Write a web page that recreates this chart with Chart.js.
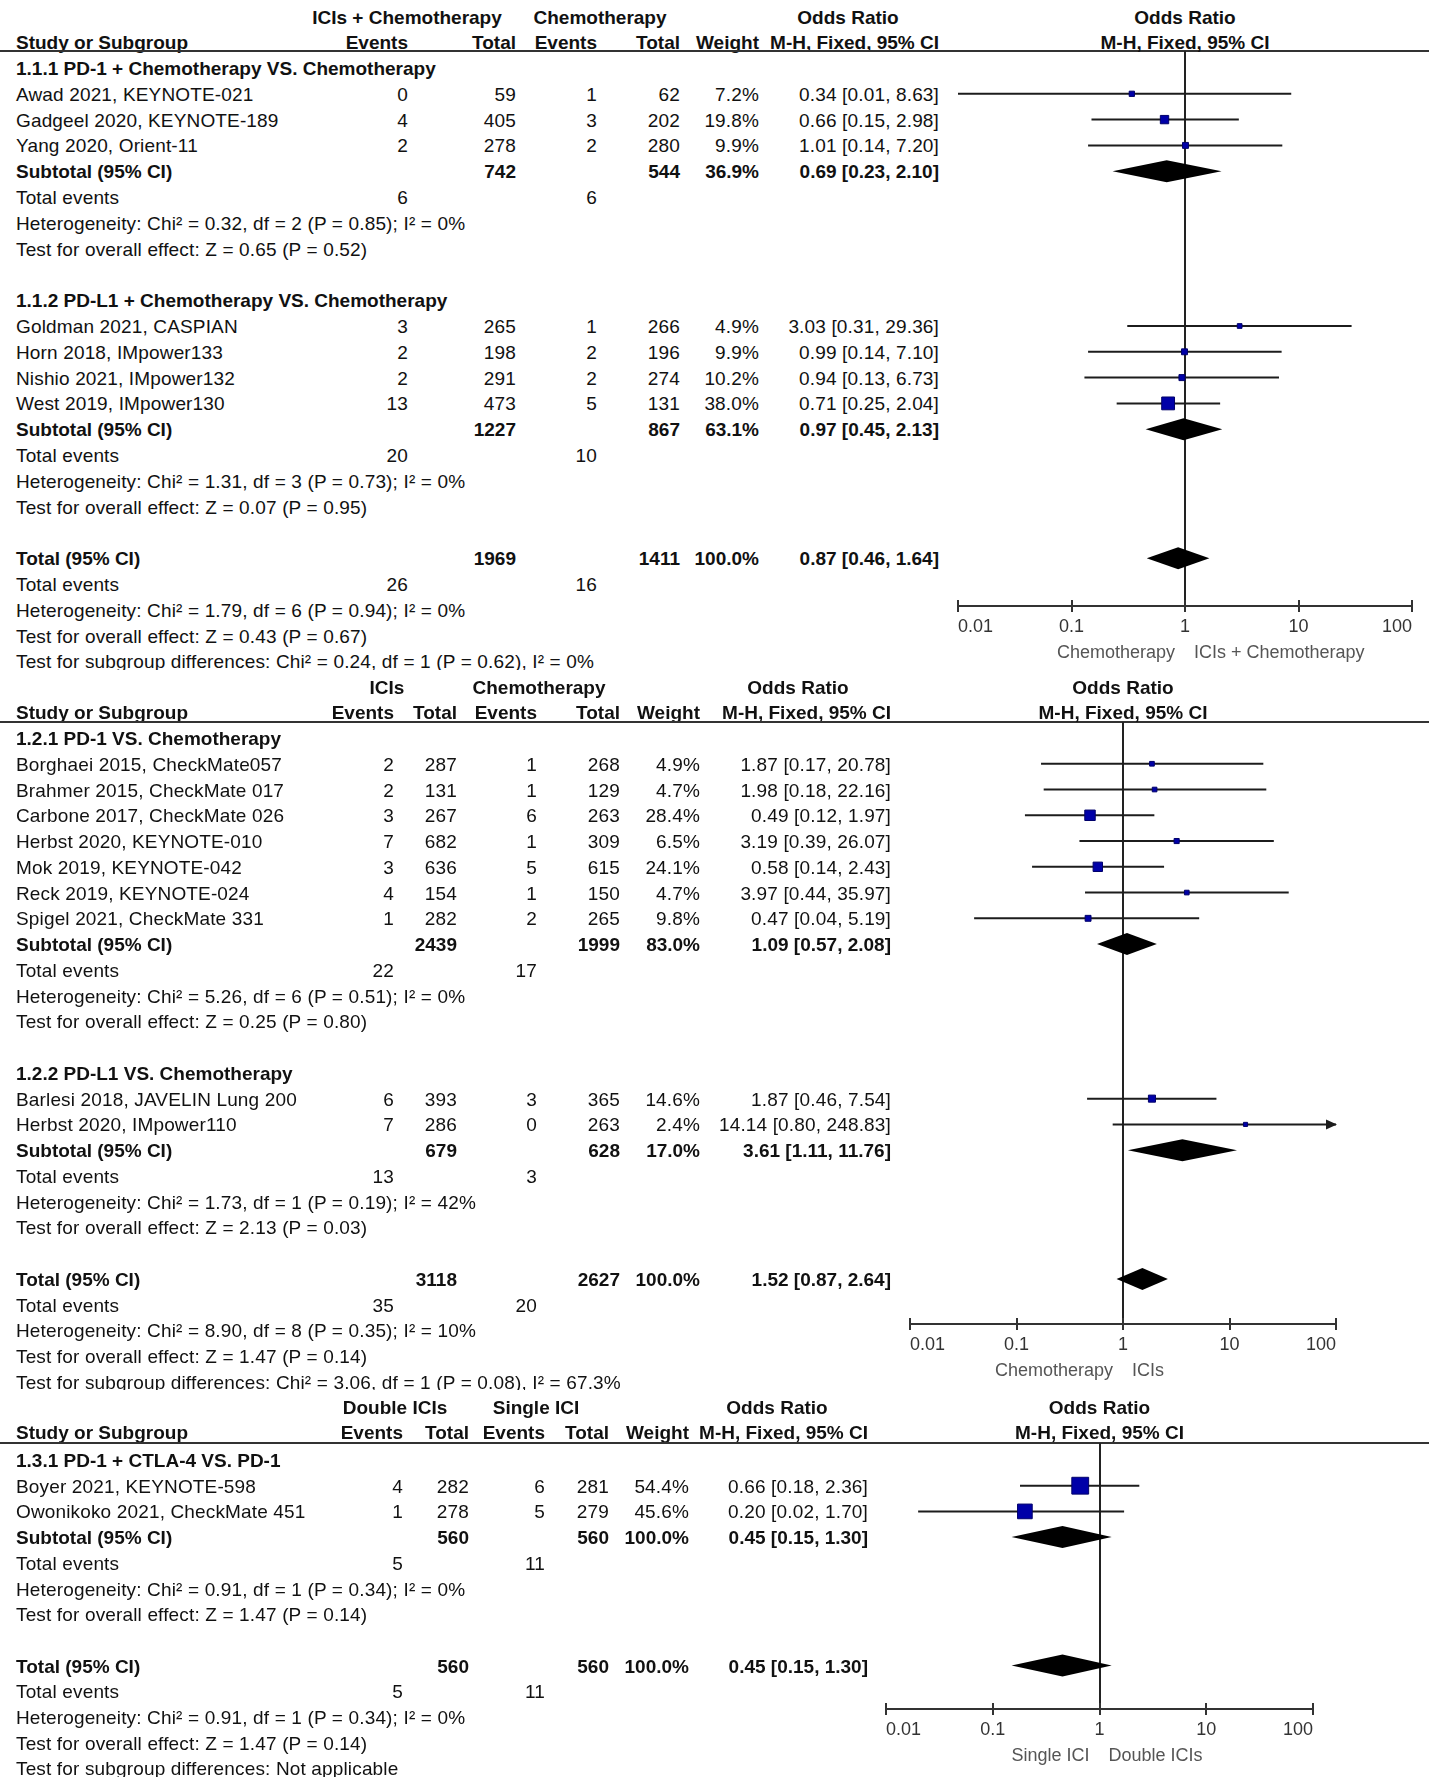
<!DOCTYPE html>
<html>
<head>
<meta charset="utf-8">
<script src="https://cdn.jsdelivr.net/npm/chart.js@4.4.1/dist/chart.umd.min.js"></script>
<style>
body { margin: 0; background: #fff; width: 1429px; height: 1777px; position: relative; overflow: hidden;
       font-family: "Liberation Sans", Arial, sans-serif; }
.panel { position: absolute; left: 0; width: 1429px; overflow: hidden; }
.t { position: absolute; white-space: nowrap; font-size: 19px; line-height: 22px; color: #111; letter-spacing: 0.15px; }
.b { font-weight: bold; letter-spacing: 0; }
.r { transform: translateX(-100%); }
.c { transform: translateX(-50%); }
.rule { position: absolute; left: 0; width: 1429px; height: 2px; background: #333; }
.plot { position: absolute; }
</style>
</head>
<body>
<script>
var tickVals = [0.01, 0.1, 1, 10, 100]
var tickLabels = ['0.01', '0.1', '1', '10', '100']

// 1.1  ICIs + chemotherapy vs chemotherapy
var arms1 = ['ICIs + Chemotherapy', 'Chemotherapy']
var favours1 = ['Chemotherapy', 'ICIs + Chemotherapy']
var subgroups1 = ['1.1.1 PD-1 + Chemotherapy VS. Chemotherapy', '1.1.2 PD-L1 + Chemotherapy VS. Chemotherapy']
var studies1 = ['Awad 2021, KEYNOTE-021', 'Gadgeel 2020, KEYNOTE-189', 'Yang 2020, Orient-11',
	'Goldman 2021, CASPIAN', 'Horn 2018, IMpower133', 'Nishio 2021, IMpower132', 'West 2019, IMpower130']
var sg1 = [0, 0, 0, 1, 1, 1, 1]
var evE1 = [0, 4, 2, 3, 2, 2, 13]
var nE1 = [59, 405, 278, 265, 198, 291, 473]
var evC1 = [1, 3, 2, 1, 2, 2, 5]
var nC1 = [62, 202, 280, 266, 196, 274, 131]
var wt1 = [7.2, 19.8, 9.9, 4.9, 9.9, 10.2, 38.0]
var or1 = [0.34, 0.66, 1.01, 3.03, 0.99, 0.94, 0.71]
var lo1 = [0.01, 0.15, 0.14, 0.31, 0.14, 0.13, 0.25]
var hi1 = [8.63, 2.98, 7.20, 29.36, 7.10, 6.73, 2.04]
// subtotals, then the overall total as last entry
var sumEvE1 = [6, 20, 26]
var sumNE1 = [742, 1227, 1969]
var sumEvC1 = [6, 10, 16]
var sumNC1 = [544, 867, 1411]
var sumWt1 = [36.9, 63.1, 100.0]
var sumOr1 = [0.69, 0.97, 0.87]
var sumLo1 = [0.23, 0.45, 0.46]
var sumHi1 = [2.10, 2.13, 1.64]
var het1 = ['Chi² = 0.32, df = 2 (P = 0.85); I² = 0%', 'Chi² = 1.31, df = 3 (P = 0.73); I² = 0%', 'Chi² = 1.79, df = 6 (P = 0.94); I² = 0%']
var zTest1 = ['Z = 0.65 (P = 0.52)', 'Z = 0.07 (P = 0.95)', 'Z = 0.43 (P = 0.67)']
var subDiff1 = 'Chi² = 0.24, df = 1 (P = 0.62), I² = 0%'

// 1.2  ICIs vs chemotherapy
var arms2 = ['ICIs', 'Chemotherapy']
var favours2 = ['Chemotherapy', 'ICIs']
var subgroups2 = ['1.2.1 PD-1 VS. Chemotherapy', '1.2.2 PD-L1 VS. Chemotherapy']
var studies2 = ['Borghaei 2015, CheckMate057', 'Brahmer 2015, CheckMate 017', 'Carbone 2017, CheckMate 026',
	'Herbst 2020, KEYNOTE-010', 'Mok 2019, KEYNOTE-042', 'Reck 2019, KEYNOTE-024', 'Spigel 2021, CheckMate 331',
	'Barlesi 2018, JAVELIN Lung 200', 'Herbst 2020, IMpower110']
var sg2 = [0, 0, 0, 0, 0, 0, 0, 1, 1]
var evE2 = [2, 2, 3, 7, 3, 4, 1, 6, 7]
var nE2 = [287, 131, 267, 682, 636, 154, 282, 393, 286]
var evC2 = [1, 1, 6, 1, 5, 1, 2, 3, 0]
var nC2 = [268, 129, 263, 309, 615, 150, 265, 365, 263]
var wt2 = [4.9, 4.7, 28.4, 6.5, 24.1, 4.7, 9.8, 14.6, 2.4]
var or2 = [1.87, 1.98, 0.49, 3.19, 0.58, 3.97, 0.47, 1.87, 14.14]
var lo2 = [0.17, 0.18, 0.12, 0.39, 0.14, 0.44, 0.04, 0.46, 0.80]
var hi2 = [20.78, 22.16, 1.97, 26.07, 2.43, 35.97, 5.19, 7.54, 248.83]
var sumEvE2 = [22, 13, 35]
var sumNE2 = [2439, 679, 3118]
var sumEvC2 = [17, 3, 20]
var sumNC2 = [1999, 628, 2627]
var sumWt2 = [83.0, 17.0, 100.0]
var sumOr2 = [1.09, 3.61, 1.52]
var sumLo2 = [0.57, 1.11, 0.87]
var sumHi2 = [2.08, 11.76, 2.64]
var het2 = ['Chi² = 5.26, df = 6 (P = 0.51); I² = 0%', 'Chi² = 1.73, df = 1 (P = 0.19); I² = 42%', 'Chi² = 8.90, df = 8 (P = 0.35); I² = 10%']
var zTest2 = ['Z = 0.25 (P = 0.80)', 'Z = 2.13 (P = 0.03)', 'Z = 1.47 (P = 0.14)']
var subDiff2 = 'Chi² = 3.06, df = 1 (P = 0.08), I² = 67.3%'

// 1.3  double ICIs vs single ICI
var arms3 = ['Double ICIs', 'Single ICI']
var favours3 = ['Single ICI', 'Double ICIs']
var subgroups3 = ['1.3.1 PD-1 + CTLA-4 VS. PD-1']
var studies3 = ['Boyer 2021, KEYNOTE-598', 'Owonikoko 2021, CheckMate 451']
var sg3 = [0, 0]
var evE3 = [4, 1]
var nE3 = [282, 278]
var evC3 = [6, 5]
var nC3 = [281, 279]
var wt3 = [54.4, 45.6]
var or3 = [0.66, 0.20]
var lo3 = [0.18, 0.02]
var hi3 = [2.36, 1.70]
var sumEvE3 = [5, 5]
var sumNE3 = [560, 560]
var sumEvC3 = [11, 11]
var sumNC3 = [560, 560]
var sumWt3 = [100.0, 100.0]
var sumOr3 = [0.45, 0.45]
var sumLo3 = [0.15, 0.15]
var sumHi3 = [1.30, 1.30]
var het3 = ['Chi² = 0.91, df = 1 (P = 0.34); I² = 0%', 'Chi² = 0.91, df = 1 (P = 0.34); I² = 0%']
var zTest3 = ['Z = 1.47 (P = 0.14)', 'Z = 1.47 (P = 0.14)']
var subDiff3 = 'Not applicable'

// page positions of each panel (pixels)
var layout1 = { top: 0, bottom: 670, armY: 17, headY: 42, ruleY: 51, row0: 68, rowH: 25.8,
	cols: [408, 516, 597, 680, 759, 939], armX: [407, 600], orHdrX: 848, plotL: 958, plotR: 1412, axisY: 606 }
var layout2 = { top: 670, bottom: 1390, armY: 687, headY: 712, ruleY: 722, row0: 738, rowH: 25.76,
	cols: [394, 457, 537, 620, 700, 891], armX: [387, 539], orHdrX: 798, plotL: 910, plotR: 1336, axisY: 1324 }
var layout3 = { top: 1390, bottom: 1777, armY: 1407, headY: 1432, ruleY: 1443, row0: 1460, rowH: 25.7,
	cols: [403, 469, 545, 609, 689, 868], armX: [395, 536], orHdrX: 777, plotL: 886, plotR: 1313, axisY: 1709 }

var FONT = '18px "Liberation Sans", Arial, sans-serif'

function put(box, text, x, y, align, bold, color) {
	var d = document.createElement('div')
	d.className = 't' + (bold ? ' b' : '') + (align == 'r' ? ' r' : align == 'c' ? ' c' : '')
	d.style.left = x + 'px'
	d.style.top = (y - 10) + 'px'
	if( color ) d.style.color = color
	d.textContent = text
	box.appendChild(d)
}

function ciText(v, lo, hi) {
	return v.toFixed(2) + ' [' + lo.toFixed(2) + ', ' + hi.toFixed(2) + ']'
}

function buildRows(p) {
	var rows = [], r = 0
	p.subgroups.forEach(function(name, g) {
		rows.push({ r: r++, kind: 'head', g: g })
		p.sg.forEach(function(s, i) { if( s == g ) rows.push({ r: r++, kind: 'study', i: i }) })
		rows.push({ r: r++, kind: 'sum', k: g })
		rows.push({ r: r++, kind: 'events', k: g })
		rows.push({ r: r++, kind: 'het', k: g })
		rows.push({ r: r++, kind: 'z', k: g })
		r++
	})
	var k = p.subgroups.length
	rows.push({ r: r++, kind: 'sum', k: k, total: true })
	rows.push({ r: r++, kind: 'events', k: k })
	rows.push({ r: r++, kind: 'het', k: k })
	rows.push({ r: r++, kind: 'z', k: k })
	rows.push({ r: r++, kind: 'diff' })
	return rows
}

function drawPanel(p, L) {
	var box = document.createElement('div')
	box.className = 'panel'
	box.style.top = L.top + 'px'
	box.style.height = (L.bottom - L.top) + 'px'
	document.body.appendChild(box)
	var T = L.top, c = L.cols, nameX = 16

	// column headers
	put(box, p.arms[0], L.armX[0], L.armY - T, 'c', true)
	put(box, p.arms[1], L.armX[1], L.armY - T, 'c', true)
	put(box, 'Odds Ratio', L.orHdrX, L.armY - T, 'c', true)
	put(box, 'Study or Subgroup', nameX, L.headY - T, 'l', true)
	put(box, 'Events', c[0], L.headY - T, 'r', true)
	put(box, 'Total', c[1], L.headY - T, 'r', true)
	put(box, 'Events', c[2], L.headY - T, 'r', true)
	put(box, 'Total', c[3], L.headY - T, 'r', true)
	put(box, 'Weight', c[4], L.headY - T, 'r', true)
	put(box, 'M-H, Fixed, 95% CI', c[5], L.headY - T, 'r', true)
	var rule = document.createElement('div')
	rule.className = 'rule'
	rule.style.top = (L.ruleY - T - 1) + 'px'
	box.appendChild(rule)

	var rows = buildRows(p)
	rows.forEach(function(o) {
		var y = L.row0 + o.r * L.rowH - T
		if( o.kind == 'head' ) {
			put(box, p.subgroups[o.g], nameX, y, 'l', true)
		} else if( o.kind == 'study' ) {
			var i = o.i
			put(box, p.studies[i], nameX, y, 'l')
			put(box, String(p.evE[i]), c[0], y, 'r')
			put(box, String(p.nE[i]), c[1], y, 'r')
			put(box, String(p.evC[i]), c[2], y, 'r')
			put(box, String(p.nC[i]), c[3], y, 'r')
			put(box, p.wt[i].toFixed(1) + '%', c[4], y, 'r')
			put(box, ciText(p.or[i], p.lo[i], p.hi[i]), c[5], y, 'r')
		} else if( o.kind == 'sum' ) {
			var k = o.k
			put(box, o.total ? 'Total (95% CI)' : 'Subtotal (95% CI)', nameX, y, 'l', true)
			put(box, String(p.sumNE[k]), c[1], y, 'r', true)
			put(box, String(p.sumNC[k]), c[3], y, 'r', true)
			put(box, p.sumWt[k].toFixed(1) + '%', c[4], y, 'r', true)
			put(box, ciText(p.sumOr[k], p.sumLo[k], p.sumHi[k]), c[5], y, 'r', true)
		} else if( o.kind == 'events' ) {
			put(box, 'Total events', nameX, y, 'l')
			put(box, String(p.sumEvE[o.k]), c[0], y, 'r')
			put(box, String(p.sumEvC[o.k]), c[2], y, 'r')
		} else if( o.kind == 'het' ) {
			put(box, 'Heterogeneity: ' + p.het[o.k], nameX, y, 'l')
		} else if( o.kind == 'z' ) {
			put(box, 'Test for overall effect: ' + p.z[o.k], nameX, y, 'l')
		} else if( o.kind == 'diff' ) {
			put(box, 'Test for subgroup differences: ' + p.diff, nameX, y, 'l')
		}
	})

	// forest plot
	var studyRow = [], sumRow = []
	rows.forEach(function(o) {
		if( o.kind == 'study' ) studyRow[o.i] = o.r
		if( o.kind == 'sum' ) sumRow[o.k] = o.r
	})
	var left = L.plotL - 60, top = L.ruleY
	var w = 1429 - left, h = L.axisY - L.ruleY + 70
	var wrap = document.createElement('div')
	wrap.className = 'plot'
	wrap.style.left = left + 'px'
	wrap.style.top = top + 'px'
	var cv = document.createElement('canvas')
	cv.width = w; cv.height = h
	cv.style.width = w + 'px'; cv.style.height = h + 'px'
	wrap.appendChild(cv)
	document.body.appendChild(wrap)

	var datasets = [{
		data: p.or.map(function(v, i) { return { x: v, y: studyRow[i] } }),
		pointStyle: 'rect',
		pointRadius: p.wt.map(function(v) { return (3.5 + 0.245 * v) / Math.SQRT2 }),
		backgroundColor: '#0000a8',
		borderColor: '#00006a',
		borderWidth: 1,
		order: 1
	}]
	p.or.forEach(function(v, i) {
		datasets.push({
			data: [{ x: p.lo[i], y: studyRow[i] }, { x: p.hi[i], y: studyRow[i] }],
			showLine: true,
			pointRadius: 0,
			borderColor: '#1c1c1c',
			borderWidth: 2,
			order: 2
		})
	})

	var forest = {
		id: 'forest',
		beforeDatasetsDraw: function(chart) {
			var ctx = chart.ctx, a = chart.chartArea
			var x1 = Math.round(chart.scales.x.getPixelForValue(1))
			ctx.save()
			ctx.strokeStyle = '#222'
			ctx.lineWidth = 2
			ctx.beginPath()
			ctx.moveTo(x1, a.top)
			ctx.lineTo(x1, a.bottom)
			ctx.stroke()
			ctx.restore()
		},
		afterDatasetsDraw: function(chart) {
			var ctx = chart.ctx, xs = chart.scales.x, ys = chart.scales.y
			ctx.save()
			ctx.fillStyle = '#000'
			p.sumOr.forEach(function(v, k) {
				var y = ys.getPixelForValue(sumRow[k])
				ctx.beginPath()
				ctx.moveTo(xs.getPixelForValue(p.sumLo[k]), y)
				ctx.lineTo(xs.getPixelForValue(v), y - 11)
				ctx.lineTo(xs.getPixelForValue(p.sumHi[k]), y)
				ctx.lineTo(xs.getPixelForValue(v), y + 11)
				ctx.closePath()
				ctx.fill()
			})
			// arrow heads where the CI runs off the axis
			ctx.fillStyle = '#1c1c1c'
			p.hi.forEach(function(v, i) {
				if( v > xs.max ) {
					var xr = xs.getPixelForValue(xs.max), y = ys.getPixelForValue(studyRow[i])
					ctx.beginPath()
					ctx.moveTo(xr + 1, y)
					ctx.lineTo(xr - 10, y - 5)
					ctx.lineTo(xr - 10, y + 5)
					ctx.closePath()
					ctx.fill()
				}
			})
			ctx.restore()
		},
		afterDraw: function(chart) {
			var ctx = chart.ctx, xs = chart.scales.x, y0 = chart.chartArea.bottom
			var xa = xs.getPixelForValue(tickVals[0]), xb = xs.getPixelForValue(tickVals[tickVals.length - 1])
			ctx.save()
			ctx.strokeStyle = '#333'
			ctx.lineWidth = 2
			ctx.beginPath()
			ctx.moveTo(xa, y0)
			ctx.lineTo(xb, y0)
			tickVals.forEach(function(v) {
				var x = Math.round(xs.getPixelForValue(v))
				ctx.moveTo(x, y0 - 6)
				ctx.lineTo(x, y0 + 6)
			})
			ctx.stroke()
			ctx.font = FONT
			ctx.fillStyle = '#333'
			ctx.textBaseline = 'middle'
			tickVals.forEach(function(v, i) {
				ctx.textAlign = i == 0 ? 'left' : (i == tickVals.length - 1 ? 'right' : 'center')
				ctx.fillText(tickLabels[i], xs.getPixelForValue(v), y0 + 21)
			})
			var x1 = xs.getPixelForValue(1)
			ctx.fillStyle = '#555'
			ctx.textAlign = 'right'
			ctx.fillText(p.favours[0], x1 - 10, y0 + 47)
			ctx.textAlign = 'left'
			ctx.fillText(p.favours[1], x1 + 9, y0 + 47)
			ctx.restore()
		}
	}

	var chart = new Chart(cv, {
		type: 'scatter',
		data: { datasets: datasets },
		options: {
			responsive: false,
			animation: false,
			events: [],
			layout: { autoPadding: false, padding: { left: 60, right: 1429 - L.plotR, top: 0, bottom: 70 } },
			plugins: { legend: { display: false }, tooltip: { enabled: false } },
			scales: {
				x: { type: 'logarithmic', min: tickVals[0], max: tickVals[tickVals.length - 1], display: false },
				y: { type: 'linear', reverse: true, display: false,
					min: (L.ruleY - L.row0) / L.rowH, max: (L.axisY - L.row0) / L.rowH }
			}
		},
		plugins: [forest]
	})

	// header over the plot, centred on OR = 1
	var x1 = left + chart.scales.x.getPixelForValue(1)
	put(box, 'Odds Ratio', x1, L.armY - T, 'c', true)
	put(box, 'M-H, Fixed, 95% CI', x1, L.headY - T, 'c', true)
}

drawPanel({ arms: arms1, favours: favours1, subgroups: subgroups1, studies: studies1, sg: sg1,
	evE: evE1, nE: nE1, evC: evC1, nC: nC1, wt: wt1, or: or1, lo: lo1, hi: hi1,
	sumEvE: sumEvE1, sumNE: sumNE1, sumEvC: sumEvC1, sumNC: sumNC1, sumWt: sumWt1,
	sumOr: sumOr1, sumLo: sumLo1, sumHi: sumHi1, het: het1, z: zTest1, diff: subDiff1 }, layout1)
drawPanel({ arms: arms2, favours: favours2, subgroups: subgroups2, studies: studies2, sg: sg2,
	evE: evE2, nE: nE2, evC: evC2, nC: nC2, wt: wt2, or: or2, lo: lo2, hi: hi2,
	sumEvE: sumEvE2, sumNE: sumNE2, sumEvC: sumEvC2, sumNC: sumNC2, sumWt: sumWt2,
	sumOr: sumOr2, sumLo: sumLo2, sumHi: sumHi2, het: het2, z: zTest2, diff: subDiff2 }, layout2)
drawPanel({ arms: arms3, favours: favours3, subgroups: subgroups3, studies: studies3, sg: sg3,
	evE: evE3, nE: nE3, evC: evC3, nC: nC3, wt: wt3, or: or3, lo: lo3, hi: hi3,
	sumEvE: sumEvE3, sumNE: sumNE3, sumEvC: sumEvC3, sumNC: sumNC3, sumWt: sumWt3,
	sumOr: sumOr3, sumLo: sumLo3, sumHi: sumHi3, het: het3, z: zTest3, diff: subDiff3 }, layout3)
</script>
</body>
</html>
